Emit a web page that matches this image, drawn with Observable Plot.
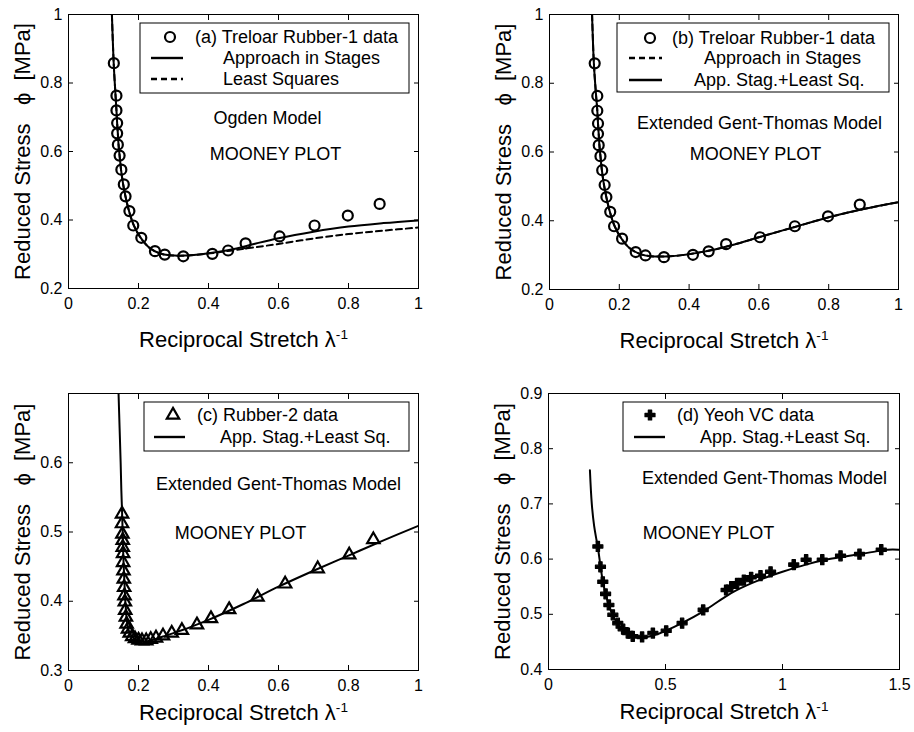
<!DOCTYPE html>
<html><head><meta charset="utf-8">
<script src="https://cdn.jsdelivr.net/npm/d3@7"></script>
<script src="https://cdn.jsdelivr.net/npm/@observablehq/plot@0.6"></script>
<style>
body{margin:0;background:#fff;}
#root{position:relative;width:914px;height:732px;background:#fff;overflow:hidden;}
.panel{position:absolute;}
</style></head><body><div id="root"></div>
<script>
// ---------- data ----------
// Treloar Rubber-1 (panels a, b)
const treloarX = [0.1295,0.137,0.137,0.139,0.139,0.141,0.146,0.151,0.158,0.163,0.174,0.185,0.208,0.247,0.275,0.328,0.411,0.456,0.506,0.603,0.703,0.798,0.889];
const treloarY = [0.858,0.763,0.720,0.683,0.653,0.620,0.588,0.547,0.504,0.469,0.426,0.384,0.348,0.309,0.299,0.294,0.301,0.311,0.332,0.352,0.384,0.413,0.447];
// (a) Ogden model curves
const ogdenStagesX = [0.124,0.129,0.134,0.137,0.139,0.141,0.143,0.146,0.150,0.156,0.163,0.173,0.186,0.205,0.230,0.260,0.290,0.330,0.380,0.430,0.480,0.530,0.600,0.700,0.800,0.900,1.000];
const ogdenStagesY = [1.000,0.860,0.770,0.720,0.683,0.652,0.620,0.588,0.548,0.505,0.468,0.426,0.386,0.350,0.320,0.303,0.297,0.296,0.300,0.307,0.317,0.330,0.347,0.366,0.381,0.391,0.399];
const ogdenLsqX = [0.124,0.129,0.134,0.137,0.139,0.141,0.143,0.146,0.150,0.156,0.163,0.173,0.186,0.205,0.230,0.260,0.290,0.330,0.380,0.430,0.480,0.530,0.600,0.700,0.800,0.900,1.000];
const ogdenLsqY = [1.000,0.860,0.770,0.720,0.683,0.652,0.620,0.588,0.548,0.505,0.468,0.426,0.386,0.350,0.320,0.303,0.297,0.296,0.300,0.306,0.313,0.320,0.330,0.346,0.359,0.369,0.378];
// (b) Extended Gent-Thomas curves
const gentStagesX = [0.122,0.127,0.133,0.137,0.139,0.141,0.143,0.146,0.150,0.156,0.163,0.173,0.186,0.205,0.230,0.260,0.290,0.330,0.380,0.430,0.480,0.530,0.600,0.700,0.800,0.900,1.000];
const gentStagesY = [1.000,0.860,0.770,0.720,0.683,0.652,0.620,0.588,0.548,0.505,0.468,0.426,0.386,0.350,0.320,0.303,0.297,0.296,0.300,0.308,0.318,0.331,0.352,0.381,0.410,0.434,0.454];
const gentAlsX = [0.122,0.127,0.133,0.137,0.139,0.141,0.143,0.146,0.150,0.156,0.163,0.173,0.186,0.205,0.230,0.260,0.290,0.330,0.380,0.430,0.480,0.530,0.600,0.700,0.800,0.900,1.000];
const gentAlsY = [1.000,0.860,0.770,0.720,0.683,0.652,0.620,0.588,0.548,0.505,0.468,0.426,0.386,0.350,0.320,0.303,0.297,0.296,0.300,0.308,0.318,0.331,0.352,0.381,0.410,0.434,0.454];
// (c) Rubber-2
const rubber2X = [0.153,0.153,0.154,0.155,0.155,0.156,0.156,0.157,0.158,0.159,0.160,0.161,0.162,0.164,0.166,0.170,0.175,0.182,0.190,0.200,0.210,0.222,0.235,0.250,0.270,0.295,0.324,0.367,0.407,0.459,0.540,0.619,0.712,0.802,0.871];
const rubber2Y = [0.526,0.512,0.497,0.488,0.478,0.469,0.456,0.444,0.432,0.420,0.408,0.399,0.387,0.377,0.367,0.360,0.354,0.349,0.346,0.344,0.343,0.343,0.345,0.347,0.350,0.354,0.358,0.366,0.375,0.388,0.406,0.425,0.447,0.467,0.489];
const rubber2FitX = [0.143,0.146,0.149,0.151,0.153,0.155,0.157,0.160,0.163,0.167,0.172,0.180,0.190,0.205,0.220,0.240,0.270,0.300,0.350,0.400,0.500,0.600,0.700,0.800,0.900,1.000];
const rubber2FitY = [0.700,0.650,0.600,0.560,0.530,0.495,0.460,0.425,0.395,0.372,0.358,0.350,0.345,0.342,0.342,0.344,0.349,0.354,0.363,0.373,0.396,0.421,0.444,0.466,0.488,0.509];
// (d) Yeoh VC
const yeohX = [0.211,0.222,0.232,0.244,0.258,0.275,0.296,0.319,0.339,0.360,0.400,0.446,0.503,0.571,0.661,0.759,0.781,0.806,0.835,0.866,0.906,0.949,1.048,1.101,1.170,1.248,1.329,1.422];
const yeohY = [0.623,0.586,0.559,0.537,0.517,0.499,0.484,0.473,0.466,0.460,0.459,0.466,0.470,0.484,0.508,0.544,0.550,0.556,0.562,0.567,0.570,0.577,0.590,0.599,0.599,0.606,0.609,0.617];
const yeohFitX = [0.177,0.185,0.195,0.205,0.211,0.222,0.232,0.244,0.258,0.275,0.296,0.319,0.340,0.360,0.400,0.450,0.500,0.570,0.660,0.700,0.760,0.800,0.900,1.000,1.100,1.200,1.300,1.400,1.450,1.500];
const yeohFitY = [0.761,0.700,0.660,0.635,0.621,0.588,0.560,0.537,0.516,0.498,0.483,0.472,0.465,0.461,0.458,0.462,0.470,0.484,0.505,0.516,0.533,0.543,0.562,0.577,0.590,0.600,0.607,0.614,0.617,0.617];
// ticks
const xTicks01 = [0,0.2,0.4,0.6,0.8,1];
const yTicksAB = [0.2,0.4,0.6,0.8,1];
const yTicksC = [0.3,0.4,0.5,0.6];
const xTicksD = [0,0.5,1,1.5];
const yTicksD = [0.4,0.5,0.6,0.7,0.8,0.9];

const FONT = '"Liberation Sans", Arial, sans-serif';
const pts = (X, Y) => X.map((x, i) => ({x, y: Y[i]}));
const fmt = d => String(d);
const XLABEL = "Reciprocal Stretch λ";
const YLABEL = "Reduced Stress\u00a0\u00a0\u00a0ϕ\u00a0\u00a0[MPa]";

function makePanel(o) {
  const svg = Plot.plot({
    width: 457, height: 366,
    marginLeft: o.ml, marginRight: o.mr, marginTop: o.mt, marginBottom: o.mb,
    style: {fontFamily: FONT, fontSize: "16px", color: "black", background: "white", overflow: "visible"},
    x: {domain: o.xDomain},
    y: {domain: o.yDomain},
    marks: [
      Plot.frame({stroke: "black", strokeWidth: 1}),
      Plot.axisX({ticks: o.xTicks, anchor: "bottom", tickSize: -5, tickPadding: 14, tickFormat: fmt, label: null, fontSize: 16}),
      Plot.axisX({ticks: o.xTicks, anchor: "top", tickSize: -5, tickFormat: () => "", label: null}),
      Plot.axisY({ticks: o.yTicks, anchor: "left", tickSize: -5, tickPadding: 11, tickFormat: fmt, label: null, fontSize: 16}),
      Plot.axisY({ticks: o.yTicks, anchor: "right", tickSize: -5, tickFormat: () => "", label: null}),
      ...o.marks,
      ...o.notes.map(n => Plot.text([n.t], {frameAnchor: "top-left", dx: n.dx, dy: n.dy, textAnchor: "middle", lineAnchor: "middle", fontSize: 18, fill: "black"})),
      Plot.text([XLABEL], {frameAnchor: "bottom", dy: o.xLabelDy, textAnchor: "middle", lineAnchor: "middle", fontSize: 22, fill: "black"}),
      Plot.text([YLABEL], {frameAnchor: "left", dx: -46, rotate: -90, textAnchor: "middle", lineAnchor: "middle", fontSize: 22, fill: "black"})
    ]
  });
  // superscript -1 on lambda
  d3.select(svg).selectAll("text").filter(function(){ return this.textContent === XLABEL; })
    .append("tspan").attr("dy", "-0.55em").attr("font-size", "0.62em").text("-1");
  // legend
  const ox = o.left, oy = o.top;
  const g = d3.select(svg).append("g").attr("font-family", FONT).attr("font-size", 18)
    .attr("fill", "black").attr("text-anchor", "start");
  const b = o.legend.box;
  g.append("rect").attr("x", b[0]-ox).attr("y", b[1]-oy).attr("width", b[2]-b[0]).attr("height", b[3]-b[1])
    .attr("fill", "white").attr("stroke", "black").attr("stroke-width", 1);
  for (const r of o.legend.rows) {
    const y = r.y - oy;
    if (r.kind === "line" || r.kind === "dash") {
      g.append("line").attr("x1", r.l0-ox).attr("x2", r.l1-ox).attr("y1", y).attr("y2", y)
        .attr("stroke", "black").attr("stroke-width", 2.4).attr("stroke-dasharray", r.kind === "dash" ? "6,4" : null);
    } else {
      const sym = {circle: d3.symbolCircle, triangle: d3.symbolTriangle, cross: d3.symbolCross}[r.kind];
      const p = g.append("path").attr("transform", `translate(${r.mx-ox},${y})`).attr("d", d3.symbol(sym, Math.PI*r.r*r.r)());
      if (r.fill) p.attr("fill", "black").attr("stroke", "black").attr("stroke-width", 1.2).attr("stroke-linejoin", "round");
      else p.attr("fill", "none").attr("stroke", "black").attr("stroke-width", 2.2);
    }
    g.append("text").attr("x", r.tx-ox).attr("y", y).attr("dy", "0.34em").attr("text-anchor", "start").text(r.label);
  }
  const div = document.createElement("div");
  div.className = "panel";
  div.style.left = o.left + "px"; div.style.top = o.top + "px";
  div.appendChild(svg);
  document.getElementById("root").appendChild(div);
}

const lineOpts = {x: "x", y: "y", stroke: "black", strokeWidth: 2, curve: "catmull-rom", clip: true};
const dashOpts = {...lineOpts, strokeDasharray: "6,4"};
const circleOpts = {x: "x", y: "y", r: 5, stroke: "black", strokeWidth: 2.2, fill: "none"};

// (a)
makePanel({
  left: 0, top: 0, ml: 68, mr: 39, mt: 14, mb: 78,
  xDomain: [0, 1], yDomain: [0.2, 1], xTicks: xTicks01, yTicks: yTicksAB, xLabelDy: 51,
  marks: [
    Plot.line(pts(ogdenLsqX, ogdenLsqY), dashOpts),
    Plot.line(pts(ogdenStagesX, ogdenStagesY), lineOpts),
    Plot.dot(pts(treloarX, treloarY), circleOpts)
  ],
  notes: [{t: "Ogden Model", dx: 199, dy: 104}, {t: "MOONEY PLOT", dx: 207, dy: 140}],
  legend: {box: [140, 23, 409, 93], rows: [
    {kind: "circle", r: 5, mx: 170, y: 37, tx: 195, label: "(a) Treloar Rubber-1 data"},
    {kind: "line", l0: 151, l1: 183, y: 58, tx: 223, label: "Approach in Stages"},
    {kind: "dash", l0: 151, l1: 183, y: 79, tx: 223, label: "Least Squares"}
  ]}
});
// (b)
makePanel({
  left: 457, top: 0, ml: 92, mr: 16, mt: 14, mb: 77,
  xDomain: [0, 1], yDomain: [0.2, 1], xTicks: xTicks01, yTicks: yTicksAB, xLabelDy: 51,
  marks: [
    Plot.line(pts(gentStagesX, gentStagesY), dashOpts),
    Plot.line(pts(gentAlsX, gentAlsY), lineOpts),
    Plot.dot(pts(treloarX, treloarY), circleOpts)
  ],
  notes: [{t: "Extended Gent-Thomas Model", dx: 210, dy: 109}, {t: "MOONEY PLOT", dx: 206, dy: 140}],
  legend: {box: [617, 23, 889, 92], rows: [
    {kind: "circle", r: 5, mx: 650, y: 38, tx: 672, label: "(b) Treloar Rubber-1 data"},
    {kind: "dash", l0: 629, l1: 662, y: 58, tx: 704, label: "Approach in Stages"},
    {kind: "line", l0: 629, l1: 662, y: 80, tx: 694, label: "App. Stag.+Least Sq."}
  ]}
});
// (c)
makePanel({
  left: 0, top: 366, ml: 68, mr: 39, mt: 27, mb: 62,
  xDomain: [0, 1], yDomain: [0.3, 0.7], xTicks: xTicks01, yTicks: yTicksC, xLabelDy: 42,
  marks: [
    Plot.line(pts(rubber2FitX, rubber2FitY), lineOpts),
    Plot.dot(pts(rubber2X, rubber2Y), {x: "x", y: "y", r: 4.6, symbol: "triangle", stroke: "black", strokeWidth: 2.2, fill: "none"})
  ],
  notes: [{t: "Extended Gent-Thomas Model", dx: 210, dy: 91}, {t: "MOONEY PLOT", dx: 172, dy: 140}],
  legend: {box: [144, 402, 409, 451], rows: [
    {kind: "triangle", r: 4.6, mx: 173, y: 415, tx: 197, label: "(c) Rubber-2 data"},
    {kind: "line", l0: 154, l1: 185, y: 437, tx: 220, label: "App. Stag.+Least Sq."}
  ]}
});
// (d)
makePanel({
  left: 457, top: 366, ml: 91, mr: 15, mt: 27, mb: 63,
  xDomain: [0, 1.5], yDomain: [0.4, 0.9], xTicks: xTicksD, yTicks: yTicksD, xLabelDy: 42,
  marks: [
    Plot.line(pts(yeohFitX, yeohFitY), lineOpts),
    Plot.dot(pts(yeohX, yeohY), {x: "x", y: "y", r: 4.2, symbol: "cross", fill: "black", stroke: "black", strokeWidth: 1.2, strokeLinejoin: "round"})
  ],
  notes: [{t: "Extended Gent-Thomas Model", dx: 216, dy: 85}, {t: "MOONEY PLOT", dx: 160, dy: 140}],
  legend: {box: [623, 402, 888, 451], rows: [
    {kind: "cross", r: 4.2, fill: true, mx: 650, y: 415, tx: 677, label: "(d) Yeoh VC data"},
    {kind: "line", l0: 634, l1: 665, y: 437, tx: 700, label: "App. Stag.+Least Sq."}
  ]}
});
</script></body></html>
